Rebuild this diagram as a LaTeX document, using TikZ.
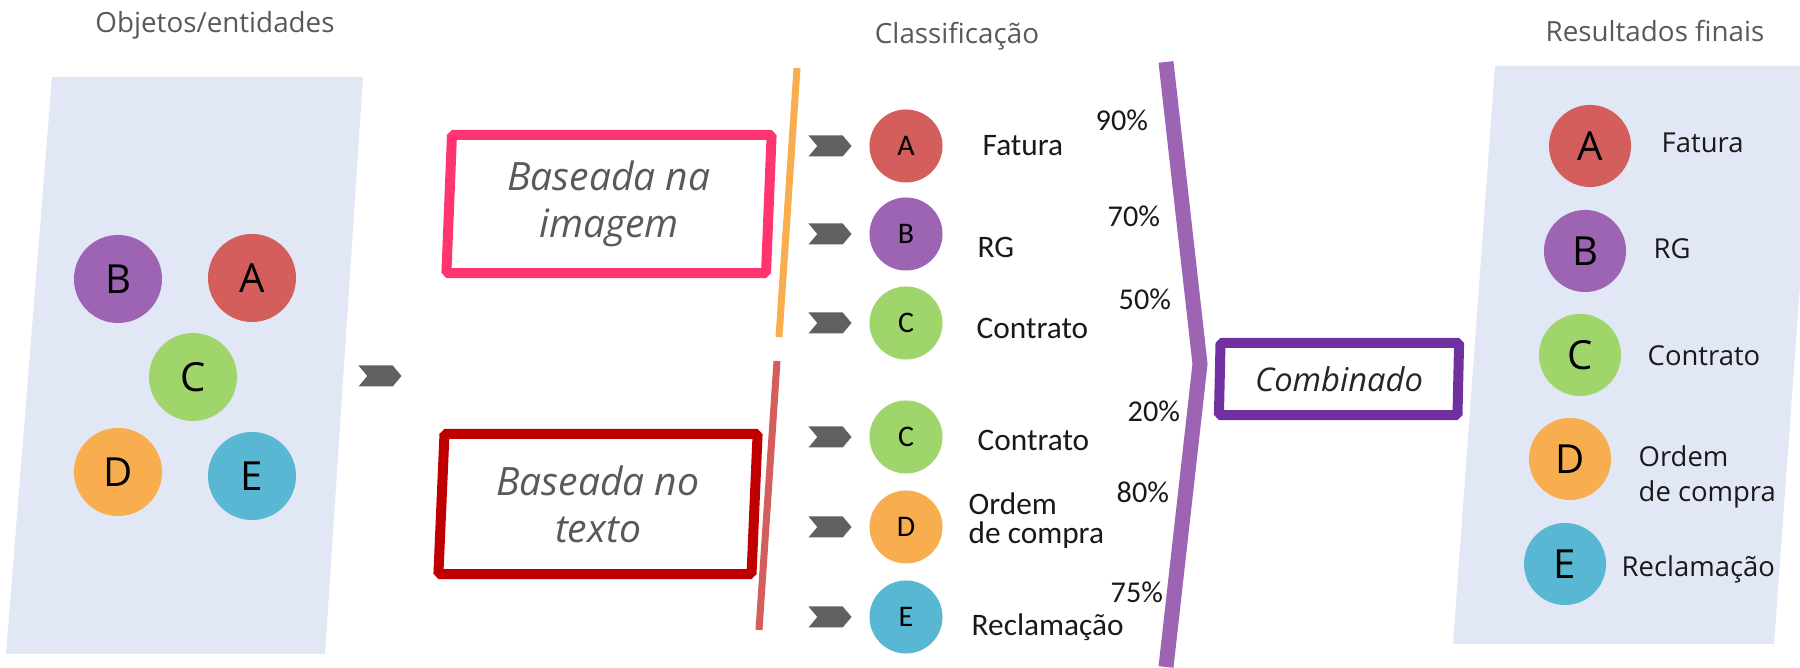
\documentclass[tikz,border=0pt]{standalone}
\usepackage{fontspec}
\setmainfont{Open Sans}
\newfontfamily\calibri{Carlito}
\usetikzlibrary{shapes.geometric,shapes.symbols}

\definecolor{panelblue}{RGB}{225,231,245}
\definecolor{titlegray}{RGB}{89,89,89}
\definecolor{chevgray}{RGB}{96,96,96}
\definecolor{catA}{RGB}{211,94,91}
\definecolor{catB}{RGB}{156,100,179}
\definecolor{catC}{RGB}{160,213,107}
\definecolor{catD}{RGB}{248,173,79}
\definecolor{catE}{RGB}{88,184,211}
\definecolor{imgpink}{RGB}{255,53,113}
\definecolor{txtred}{RGB}{192,0,0}
\definecolor{combpurple}{RGB}{112,48,160}

\begin{document}
\begin{tikzpicture}[x=0.01cm, y=-0.01cm,
	title/.style={text=titlegray, inner sep=0, anchor=base, font=\fontsize{7.9}{9}\selectfont},
	bigdot/.style={circle, inner sep=0, minimum size=0.88cm, font=\fontsize{11.4}{13}\selectfont},
	smalldot/.style={circle, inner sep=0, minimum size=0.73cm, font=\calibri\fontsize{8.5}{10}\selectfont},
	enddot/.style={circle, inner sep=0, minimum size=0.82cm, font=\fontsize{11.4}{13}\selectfont},
	lbl/.style={inner sep=0, anchor=base west, align=left, text=black!90, font=\calibri\fontsize{8.9}{8.5}\selectfont},
	pct/.style={inner sep=0, anchor=base west, text=black!90, font=\calibri\fontsize{8.6}{8.5}\selectfont},
	endlbl/.style={inner sep=0, anchor=base west, align=left, text=black!90, font=\fontsize{7.8}{10}\selectfont},
	chevron/.style={signal, signal to=east, signal from=west, signal pointer angle=100, fill=chevgray, inner sep=0, minimum width=0.43cm, minimum height=0.21cm},
	method/.style={trapezium, trapezium stretches body, fill=white, line width=0.1cm, line join=bevel, inner sep=0, align=center, text=titlegray, font=\itshape\fontsize{11.1}{13.4}\selectfont}]
	\useasboundingbox (0,0) rectangle (1800,668);

	% panels
	\fill[panelblue] (52,77) -- (363,77) -- (325,654) -- (6,654) -- cycle;
	\fill[panelblue] (1495,66) -- (1800,66) -- (1800,286) -- (1774,644) -- (1453,644) -- cycle;

	\node[title] (objt) at (215,33) {Objetos/entidades};
	\node[title] (clst) at (957,44) {Classificação};
	\node[title] (rest) at (1655,42) {Resultados finais};

	% objects
	\node[bigdot, fill=catB] (oB) at (118,279) {B};
	\node[bigdot, fill=catA] (oA) at (252,278) {A};
	\node[bigdot, fill=catC] (oC) at (193,377) {C};
	\node[bigdot, fill=catD] (oD) at (118,472) {D};
	\node[bigdot, fill=catE] (oE) at (252,476) {E};
	\node[chevron] (go) at (380,376) {};

	% classifiers
	\node[method, draw=imgpink, trapezium left angle=86.3, trapezium right angle=93.7, minimum width=3.25cm, minimum height=1.38cm] (img) at (609,204) {Baseada na\\imagem};
	\node[method, draw=txtred, trapezium left angle=85.5, trapezium right angle=94.5, minimum width=3.19cm, minimum height=1.40cm] (txt) at (598,504) {Baseada no\\texto};
	\draw[line width=0.07cm, catD] (797,68) -- (779,337);
	\draw[line width=0.07cm, catA] (777,361) -- (759,630);

	\foreach \y/\c/\n in {146/A/A, 234/B/B, 323/C/C, 437/C/C2, 527/D/D, 617/E/E} {
		\node[chevron] (ch\n) at (830,\y) {};
		\node[smalldot, fill=cat\c] (m\n) at (906,\y) {\c};
	}

	\node[lbl] (lA) at (982,156) {Fatura};
	\node[lbl] (lB) at (977,258) {RG};
	\node[lbl] (lC) at (976,339) {Contrato};
	\node[lbl] (lC2) at (977,451) {Contrato};
	\node[lbl] (lD) at (968,544) {Ordem\\de compra};
	\node[lbl] (lE) at (971,636) {Reclamação};

	\node[pct] (pA) at (1095,131) {90\%};
	\node[pct] (pB) at (1107,227) {70\%};
	\node[pct] (pC) at (1118,310) {50\%};
	\node[pct] (pC2) at (1127,422) {20\%};
	\node[pct] (pD) at (1116,503) {80\%};
	\node[pct] (pE) at (1110,603) {75\%};

	% combination
	\draw[line width=0.15cm, catB, line join=miter] (1166,62) -- (1200,364) -- (1166,667);
	\node[method, draw=combpurple, text=black!85, trapezium left angle=86.4, trapezium right angle=93.6, minimum width=2.40cm, minimum height=0.72cm, font=\itshape\fontsize{9.3}{10}\selectfont] (comb) at (1339,379) {Combinado};

	% results
	\node[enddot, fill=catA] (rA) at (1590,146) {A};
	\node[enddot, fill=catB] (rB) at (1585,251) {B};
	\node[enddot, fill=catC] (rC) at (1580,355) {C};
	\node[enddot, fill=catD] (rD) at (1570,459) {D};
	\node[enddot, fill=catE] (rE) at (1565,564) {E};

	\node[endlbl] (rlA) at (1661,153) {Fatura};
	\node[endlbl] (rlB) at (1653,259) {RG};
	\node[endlbl] (rlC) at (1647,366) {Contrato};
	\node[endlbl] (rlD) at (1638,502) {Ordem\\de compra};
	\node[endlbl] (rlE) at (1621,577) {Reclamação};
\end{tikzpicture}
\end{document}
